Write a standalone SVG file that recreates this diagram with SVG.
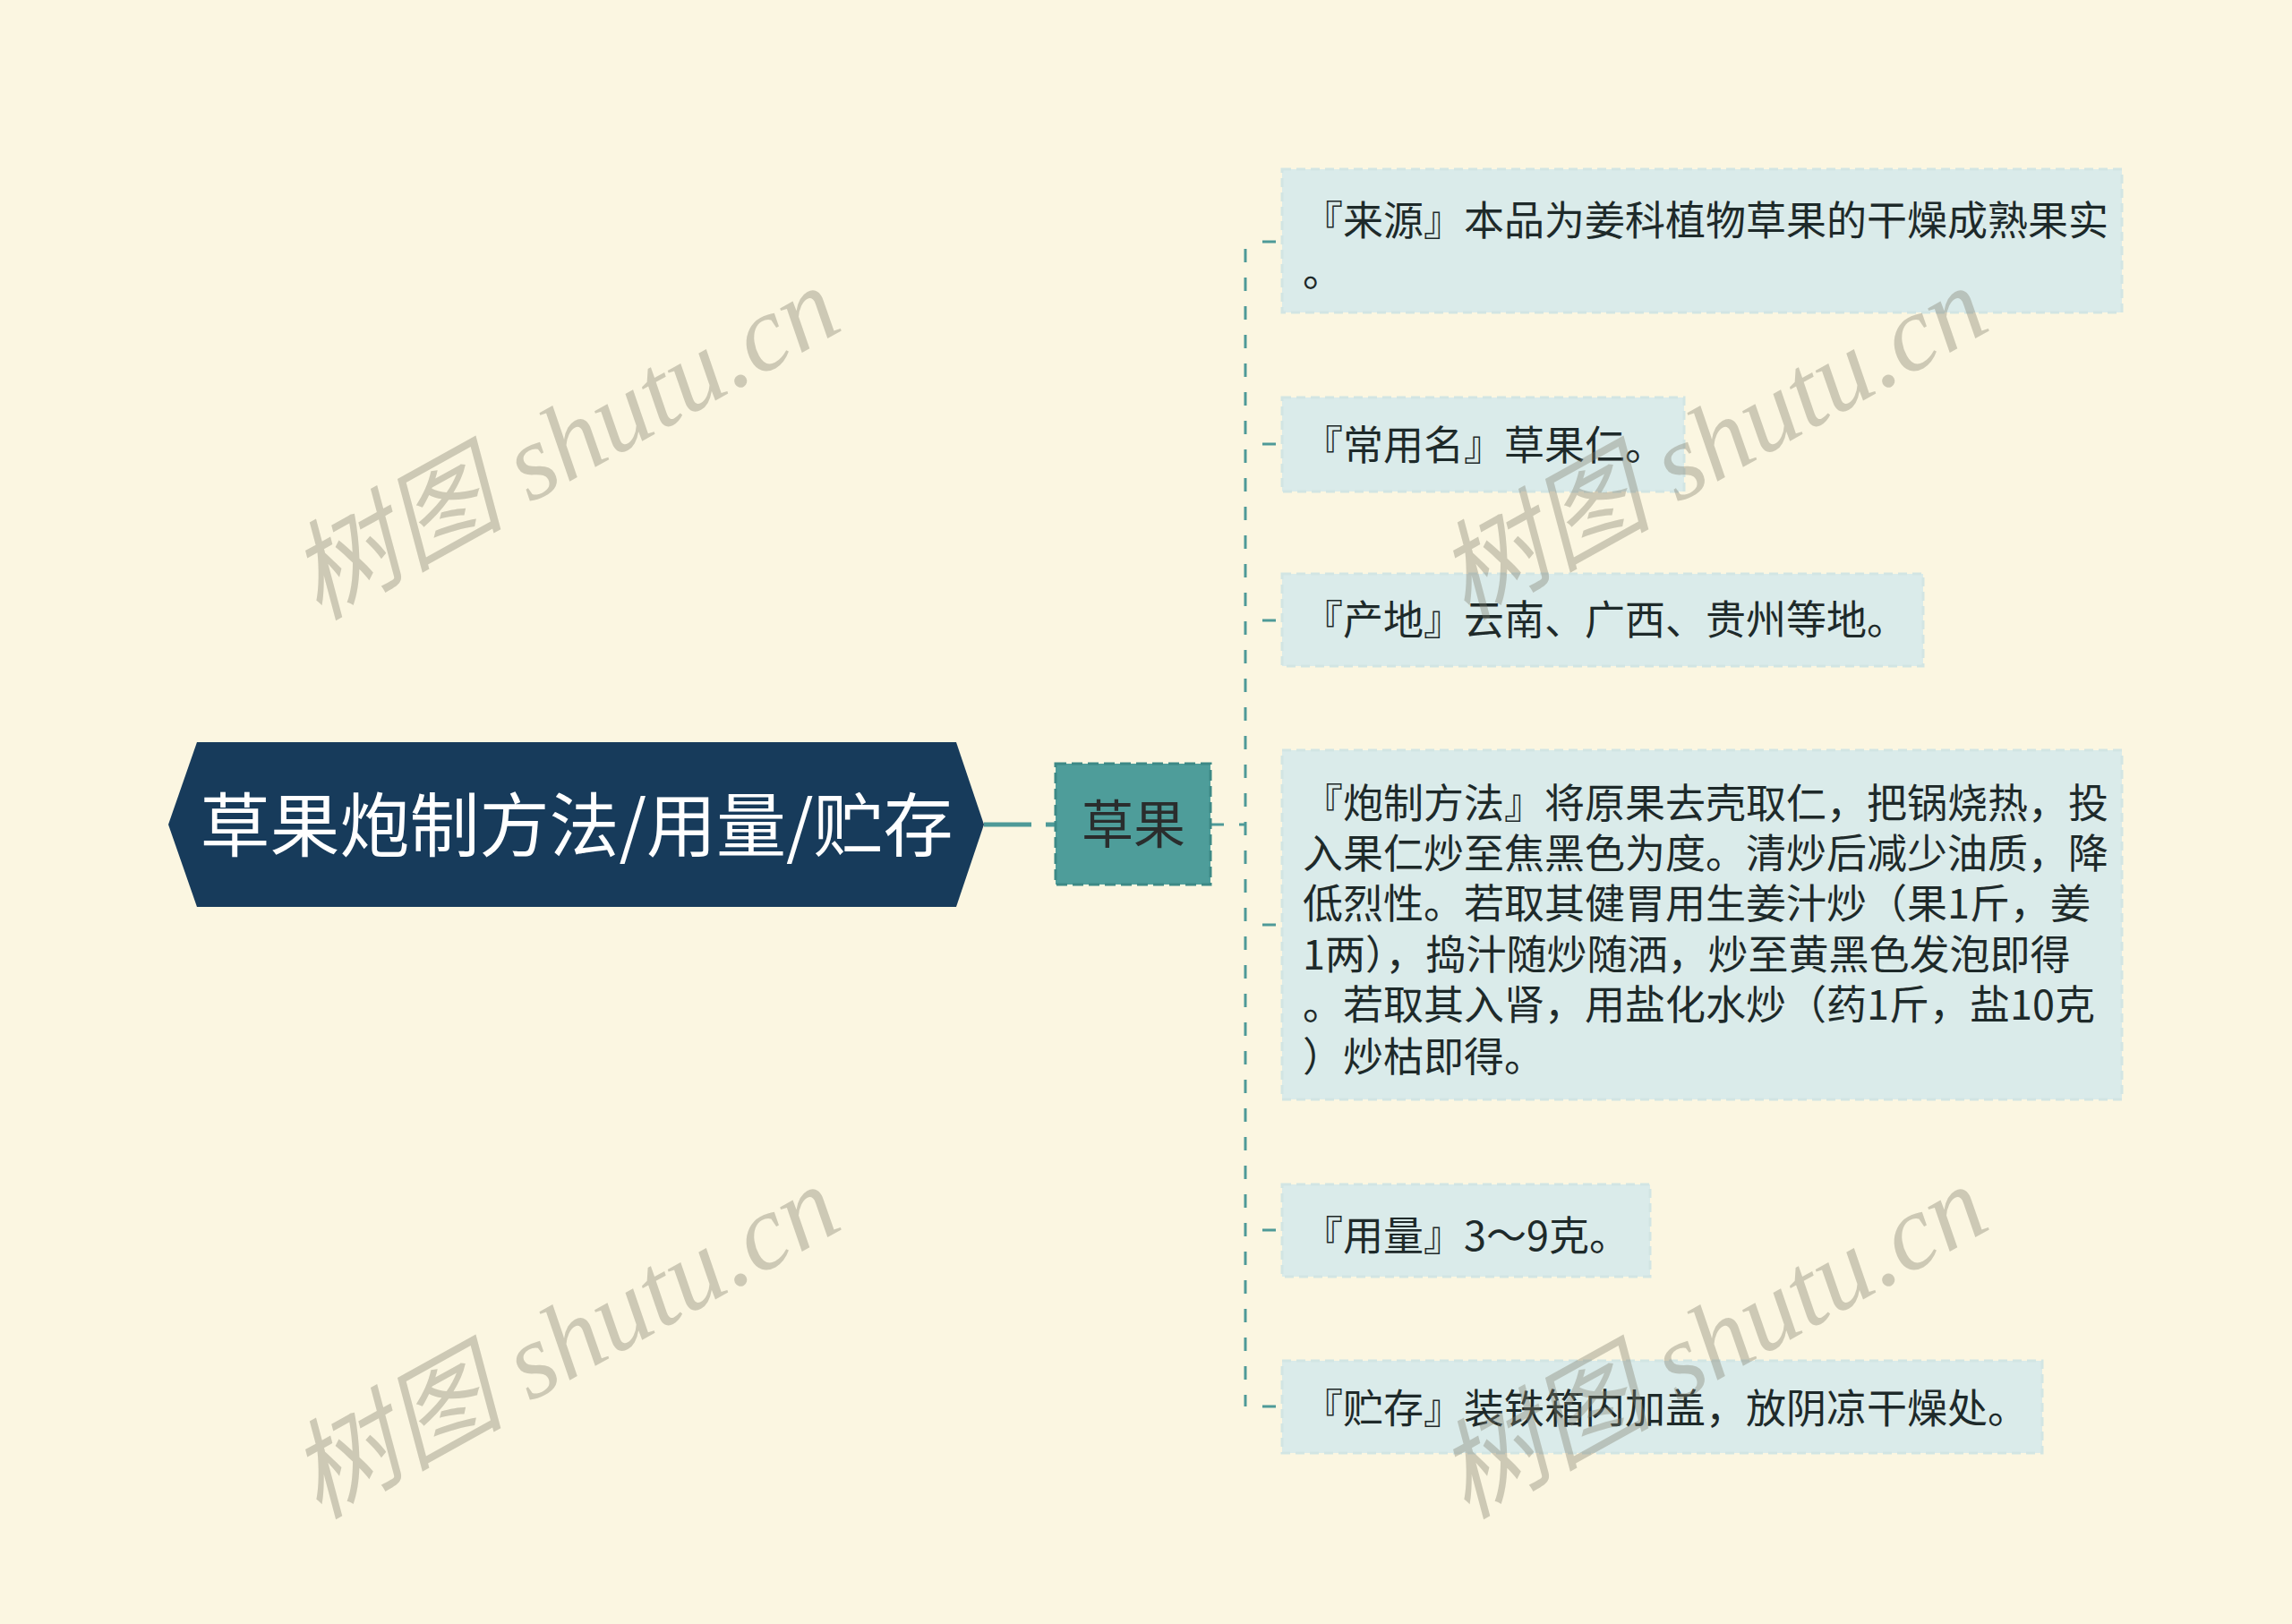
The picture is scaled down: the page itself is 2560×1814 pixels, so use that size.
<svg xmlns="http://www.w3.org/2000/svg" width="2560" height="1814" viewBox="0 0 2560 1814">
<style>
.bg{fill:#FBF6E1}
.wm{font-family:"Liberation Serif","Noto Sans CJK SC",serif;font-style:italic;font-size:120px;fill:#807E69;fill-opacity:0.37}
.leaf rect{fill:#DAEBEA;stroke:#D2E5E3;stroke-width:3;stroke-dasharray:10 6}
.leaf text{font-family:"Noto Sans CJK SC","Noto Sans",sans-serif;font-size:45px;fill:#1E2A2A}
.conn{fill:none;stroke:#4E9A98;stroke-width:3;stroke-dasharray:15 17}
</style>
<rect class="bg" x="0" y="0" width="2560" height="1814"/>

<g id="connectors">
<line x1="1099" y1="921" x2="1152" y2="921" stroke="#4E9A98" stroke-width="5"/>
<line x1="1168" y1="921" x2="1179" y2="921" stroke="#4E9A98" stroke-width="5"/>
<line class="conn" x1="1352" y1="921" x2="1391" y2="921"/>
<line class="conn" x1="1391" y1="270" x2="1391" y2="1571" style="stroke-dasharray:15 17;stroke-dashoffset:-8"/>
<line class="conn" x1="1391" y1="270" x2="1432" y2="270" style="stroke-dasharray:0 19 15 20"/>
<line class="conn" x1="1391" y1="496" x2="1432" y2="496" style="stroke-dasharray:0 19 15 20"/>
<line class="conn" x1="1391" y1="693" x2="1432" y2="693" style="stroke-dasharray:0 19 15 20"/>
<line class="conn" x1="1391" y1="1033" x2="1432" y2="1033" style="stroke-dasharray:0 19 15 20"/>
<line class="conn" x1="1391" y1="1374" x2="1432" y2="1374" style="stroke-dasharray:0 19 15 20"/>
<line class="conn" x1="1391" y1="1571" x2="1432" y2="1571" style="stroke-dasharray:0 19 15 20"/>
</g>

<g id="root">
<polygon points="188,921 220,829 1068,829 1099,921 1068,1013 220,1013" fill="#173B5B"/>
<text x="644" y="951" text-anchor="middle" font-family="'Noto Sans CJK SC','Noto Sans',sans-serif" font-size="78" fill="#FFFFFF">草果炮制方法/用量/贮存</text>
</g>

<g id="main">
<rect x="1179" y="853" width="173" height="135" fill="#4E9D9A" stroke="#3D8986" stroke-width="3" stroke-dasharray="12 6"/>
<text x="1266" y="942" text-anchor="middle" font-family="'Noto Sans CJK SC','Noto Sans',sans-serif" font-size="58" fill="#2A2D2D">草果</text>
</g>

<g id="leaf-source" class="leaf">
<rect x="1432" y="189" width="938" height="160"/>
<text x="1455" y="263">『来源』本品为姜科植物草果的干燥成熟果实</text>
<text x="1455" y="320">。</text>
</g>

<g id="leaf-name" class="leaf">
<rect x="1432" y="444" width="449" height="105"/>
<text x="1455" y="514">『常用名』草果仁。</text>
</g>

<g id="leaf-origin" class="leaf">
<rect x="1432" y="641" width="716" height="103"/>
<text x="1455" y="709">『产地』云南、广西、贵州等地。</text>
</g>

<g id="leaf-method" class="leaf">
<rect x="1432" y="838" width="938" height="390"/>
<text x="1455" y="914">『炮制方法』将原果去壳取仁，把锅烧热，投</text>
<text x="1455" y="970">入果仁炒至焦黑色为度。清炒后减少油质，降</text>
<text x="1455" y="1026">低烈性。若取其健胃用生姜汁炒（果1斤，姜</text>
<text x="1455" y="1083">1两），捣汁随炒随洒，炒至黄黑色发泡即得</text>
<text x="1455" y="1139">。若取其入肾，用盐化水炒（药1斤，盐10克</text>
<text x="1455" y="1197">）炒枯即得。</text>
</g>

<g id="leaf-dose" class="leaf">
<rect x="1432" y="1323" width="411" height="103"/>
<text x="1455" y="1397">『用量』3～9克。</text>
</g>

<g id="leaf-storage" class="leaf">
<rect x="1432" y="1520" width="849" height="103"/>
<text x="1455" y="1590">『贮存』装铁箱内加盖，放阴凉干燥处。</text>
</g>

<g id="watermarks">
<text class="wm" x="650" y="530" text-anchor="middle" transform="rotate(-29 650 530)">树图 shutu.cn</text>
<text class="wm" x="1932" y="530" text-anchor="middle" transform="rotate(-29 1932 530)">树图 shutu.cn</text>
<text class="wm" x="650" y="1534" text-anchor="middle" transform="rotate(-29 650 1534)">树图 shutu.cn</text>
<text class="wm" x="1932" y="1534" text-anchor="middle" transform="rotate(-29 1932 1534)">树图 shutu.cn</text>
</g>
</svg>
